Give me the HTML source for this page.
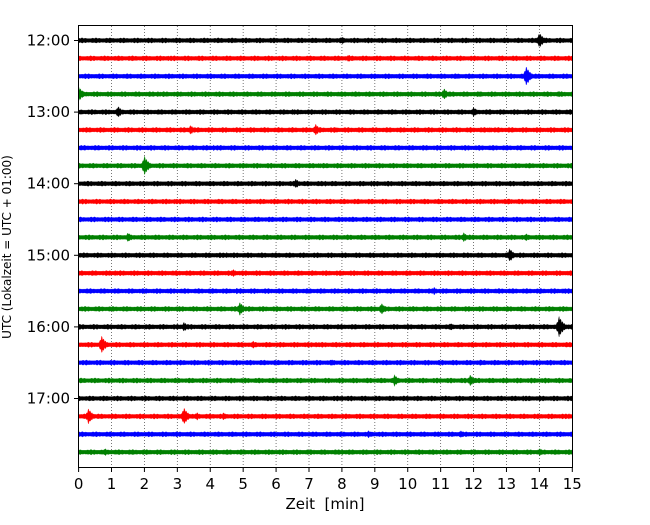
<!DOCTYPE html>
<html><head><meta charset="utf-8"><style>
body{margin:0;background:#fff}
svg text{font-family:"DejaVu Sans","Liberation Sans",sans-serif}
</style></head><body>
<svg id="chart" width="650" height="520" xmlns="http://www.w3.org/2000/svg">
<rect width="650" height="520" fill="#fff"/>
<g id="grid"></g>
<g id="traces"></g>
<rect x="78.5" y="25.5" width="494" height="442" fill="none" stroke="#000" stroke-width="1"/>
<g id="xaxis"></g>
<g id="yaxis"></g>
<text x="325" y="509" font-size="15" text-anchor="middle" xml:space="preserve">Zeit  [min]</text>
<text transform="translate(11,247) rotate(-90)" font-size="12" text-anchor="middle">UTC (Lokalzeit = UTC + 01:00)</text>
</svg>
<script>
const xTicks=[0,1,2,3,4,5,6,7,8,9,10,11,12,13,14,15];
const yLabels=["12:00","13:00","14:00","15:00","16:00","17:00"];
const yLabelTraces=[0,4,8,12,16,20];
const traceColors=["#000000","#ff0000","#0000ff","#008000"];
const traceCount=24;
// events: [traceIndex, minute, amplitudePx]
const events=[
[0,8.0,4],[0,14.0,8],[0,11.8,3],
[1,2.7,3],[1,8.2,4],[1,12.8,3],
[2,11.5,3],[2,13.6,10],[2,4.0,3],
[3,0.0,8],[3,2.4,3],[3,11.1,6],[3,12.2,3],[3,14.6,3],
[4,1.2,6],[4,6.5,3],[4,12.0,5],[4,12.5,3],
[5,3.4,5],[5,7.2,6],[5,7.8,3],[5,12.5,3],
[6,4.1,3],[6,13.0,3],
[7,2.0,10],[7,7.3,3],
[8,6.6,5],[8,7.5,3],[8,8.9,3],
[9,2.9,3],[9,13.1,3],
[10,1.0,3],[10,8.1,3],
[11,1.5,5],[11,11.7,5],[11,13.6,4],
[12,13.1,7],[12,11.7,3],[12,4.5,3],
[13,1.1,3],[13,4.7,4],
[14,4.8,3],[14,10.8,4],[14,14.7,3],
[15,4.9,7],[15,9.2,6],[15,3.0,3],
[16,3.2,5],[16,14.6,11],[16,11.3,4],
[17,0.7,9],[17,5.3,4],[17,7.2,3],[17,12.8,3],
[18,7.7,3],[18,12.2,3],
[19,9.6,6],[19,11.9,6],
[20,8.0,3],[20,13.5,3],[20,14.0,3],
[21,0.3,8],[21,3.2,9],[21,3.6,4],[21,4.4,4],[21,11.5,3],[21,14.9,3],
[22,8.8,4],[22,11.6,4],
[23,0.8,4],[23,8.0,3],[23,14.0,4]
];
const NS="http://www.w3.org/2000/svg";
const X0=78.6,X1=572.3,Y0=40.5,DY=17.9;
const xs=m=>X0+(X1-X0)*m/15;
const ys=i=>Y0+DY*i;
function mk(t,a,p){const e=document.createElementNS(NS,t);for(const k in a)e.setAttribute(k,a[k]);p.appendChild(e);return e;}
const grid=document.getElementById('grid'),xa=document.getElementById('xaxis'),ya=document.getElementById('yaxis'),tr=document.getElementById('traces');
xTicks.forEach(t=>{
 const x=xs(t);
 if(t>0&&t<15){const g=mk('line',{x1:x,x2:x,y1:26,y2:467,stroke:'#555','stroke-width':0.8,'stroke-dasharray':'1,2'},grid);
 
 }
 const l=mk('line',{x1:x,x2:x,y1:468,y2:472,stroke:'#000'},xa);
 
 
 const tx=mk('text',{x:x,y:489,'font-size':15,'text-anchor':'middle'},xa);tx.textContent=t;
 
 
});
yLabels.forEach((s,k)=>{
 const y=ys(yLabelTraces[k]);
 const l=mk('line',{x1:74,x2:78,y1:y,y2:y,stroke:'#000'},ya);
 
 
 const tx=mk('text',{x:70,y:y+5,'font-size':15,'text-anchor':'end'},ya);tx.textContent=s;
 
 
});
for(let i=0;i<traceCount;i++){
 const ev=events.filter(e=>e[0]===i);
 const y0=ys(i);const up=[],dn=[];
 for(let px=X0;px<=X1;px+=0.5){
  const m=(px-X0)/(X1-X0)*15;
  let a=1.9+0.8*Math.pow(Math.abs(Math.sin(px*0.9+i*1.7)*Math.cos(px*0.23+i)),2);
  ev.forEach(e=>{const dm=m-e[1];if(dm>-0.3&&dm<1){const env=dm<0?Math.exp(dm/0.07):Math.exp(-dm/0.14);a=Math.max(a,e[2]*env*(0.55+0.45*Math.abs(Math.sin(px*1.7+i))));}});
  up.push(px.toFixed(1)+','+(y0-a).toFixed(2));
  dn.push(px.toFixed(1)+','+(y0+a*(0.85+0.15*Math.abs(Math.cos(px*1.1)))).toFixed(2));
 }
 const d='M'+up.join('L')+'L'+dn.reverse().join('L')+'Z';
 const p=mk('path',{d:d,fill:traceColors[i%4],stroke:traceColors[i%4],'stroke-width':0.3},tr);
 
 
}
</script>
</body></html>
